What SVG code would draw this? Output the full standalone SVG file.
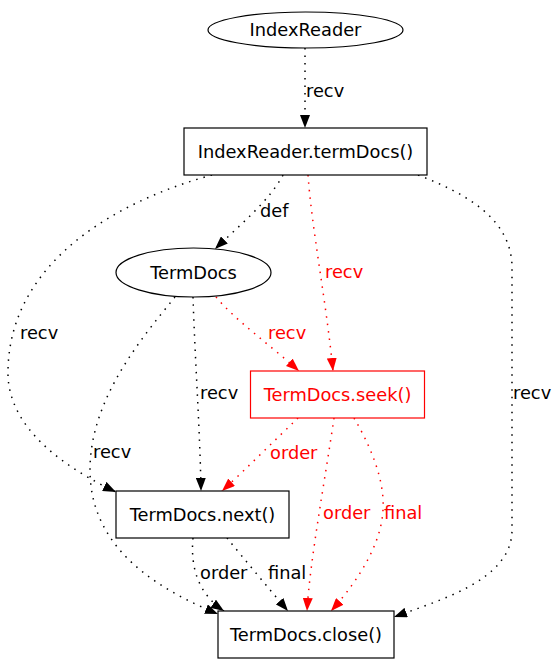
<svg xmlns="http://www.w3.org/2000/svg" width="557" height="664" viewBox="0 0 557 664">
<style>
text{font-family:"DejaVu Sans","Liberation Sans",sans-serif;font-size:17.8px;fill:#000}
.n{text-anchor:middle}
.r{fill:#ff0000}
.shape{fill:#fff;stroke:#000;stroke-width:1.2}
.rshape{fill:#fff;stroke:#ff0000;stroke-width:1.2}
.e{fill:none;stroke:#000;stroke-width:1.5;stroke-dasharray:1.5,6;marker-end:url(#ab)}
.er{fill:none;stroke:#ff0000;stroke-width:1.5;stroke-dasharray:1.5,6;marker-end:url(#ar)}
</style>
<defs>
<marker id="ab" viewBox="0 0 13 10" markerWidth="13" markerHeight="10" refX="13" refY="5" orient="auto" markerUnits="userSpaceOnUse"><path d="M0,0 L13,5 L0,10 z" fill="#000"/></marker>
<marker id="ar" viewBox="0 0 13 10" markerWidth="13" markerHeight="10" refX="13" refY="5" orient="auto" markerUnits="userSpaceOnUse"><path d="M0,0 L13,5 L0,10 z" fill="#ff0000"/></marker>
</defs>
<rect width="557" height="664" fill="#fff"/>
<g id="connectors">
<path class="e" d="M305,48 L305,128"/>
<path class="e" d="M283,175 C270,200 240,225 215,249"/>
<path class="er" d="M308,175 C312,230 326,300 333,371"/>
<path class="e" d="M212,175 C120,200 10,260 8,370 C6,430 70,470 116,492"/>
<path class="e" d="M418,175 C470,195 510,220 512,265 L512,530 C512,580 440,600 394,617"/>
<path class="er" d="M216,297 C235,320 270,345 299,371"/>
<path class="e" d="M193,297 C195,360 200,430 201,491"/>
<path class="e" d="M175,297 C140,340 90,400 90,470 C90,550 160,590 218,614"/>
<path class="er" d="M298,418 C275,440 245,470 222,491"/>
<path class="er" d="M334,418 C325,480 310,560 307,611"/>
<path class="er" d="M354,418 C370,445 385,480 383,510 C381,550 350,590 331,611"/>
<path class="e" d="M193,538 C190,570 200,595 224,611"/>
<path class="e" d="M227,538 C245,560 270,590 288,611"/>
<text x="306" y="97">recv</text>
<text x="260" y="217">def</text>
<text class="r" x="325" y="278">recv</text>
<text x="20" y="339">recv</text>
<text x="513" y="399">recv</text>
<text class="r" x="268" y="339">recv</text>
<text x="200" y="399">recv</text>
<text x="93" y="458">recv</text>
<text class="r" x="270" y="459">order</text>
<text class="r" x="323" y="519">order</text>
<text class="r" x="384" y="519">final</text>
<text x="200" y="579">order</text>
<text x="268" y="579">final</text>
</g>
<g id="IndexReader"><ellipse class="shape" cx="305.5" cy="30" rx="97.5" ry="18"/><text class="n" x="305.5" y="36">IndexReader</text></g>
<g id="IndexReader.termDocs"><rect class="shape" x="184" y="128" width="243" height="47"/><text class="n" x="305.5" y="158">IndexReader.termDocs()</text></g>
<g id="TermDocs"><ellipse class="shape" cx="193.5" cy="272.5" rx="77.5" ry="24.5"/><text class="n" x="193.5" y="278.5">TermDocs</text></g>
<g id="TermDocs.seek"><rect class="rshape" x="250.5" y="371" width="174" height="47"/><text class="n r" x="337.5" y="401">TermDocs.seek()</text></g>
<g id="TermDocs.next"><rect class="shape" x="116" y="491" width="173" height="47"/><text class="n" x="202.5" y="521">TermDocs.next()</text></g>
<g id="TermDocs.close"><rect class="shape" x="218" y="611" width="176" height="47"/><text class="n" x="306" y="641">TermDocs.close()</text></g>
</svg>
